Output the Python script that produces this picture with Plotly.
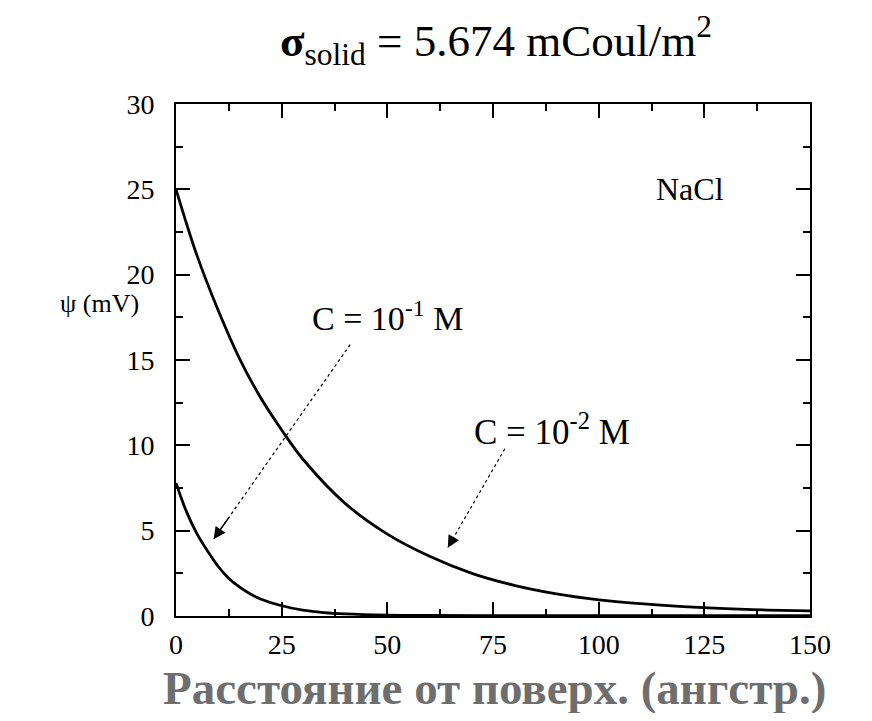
import plotly.graph_objects as go

# Data
x_c2 = [0, 5, 10, 15, 20, 25, 30, 40, 50, 60, 70, 80, 90, 100, 110, 120, 130, 140, 150]
psi_c2 = [25.0, 21.1, 17.9, 15.1, 12.8, 10.9, 9.2, 6.6, 4.8, 3.5, 2.5, 1.8, 1.3, 0.95, 0.72, 0.55, 0.43, 0.35, 0.3]

x_c1 = [0, 2.5, 5, 7.5, 10, 12.5, 15, 17.5, 20, 25, 30, 35, 40, 50, 60, 80, 100, 125, 150]
psi_c1 = [7.8, 6.1, 4.8, 3.8, 2.9, 2.2, 1.7, 1.3, 1.0, 0.6, 0.35, 0.2, 0.12, 0.05, 0.03, 0.02, 0.02, 0.02, 0.02]

x_ticks = [0, 25, 50, 75, 100, 125, 150]
y_ticks = [0, 5, 10, 15, 20, 25, 30]

serif = "Liberation Serif, Times New Roman, serif"

fig = go.Figure()
fig.add_trace(go.Scatter(x=x_c2, y=psi_c2, mode="lines", line=dict(color="black", width=2.8, shape="spline"),
                         name="C = 10^-2 M", showlegend=False))
fig.add_trace(go.Scatter(x=x_c1, y=psi_c1, mode="lines", line=dict(color="black", width=2.8, shape="spline"),
                         name="C = 10^-1 M", showlegend=False))

# dotted arrow lines
arrows = [
    # (tail_x, tail_y, tip_x, tip_y)
    (41.2, 15.9, 8.9, 4.5),
    (77.8, 9.8, 64.3, 4.0),
]
for tx, ty, hx, hy in arrows:
    fig.add_trace(go.Scatter(x=[tx, hx], y=[ty, hy], mode="lines",
                             line=dict(color="black", width=1.2, dash="dot"),
                             showlegend=False, hoverinfo="skip"))
    dx, dy = tx - hx, ty - hy
    fig.add_annotation(x=hx, y=hy, ax=hx + dx * 0.12, ay=hy + dy * 0.12,
                       xref="x", yref="y", axref="x", ayref="y",
                       showarrow=True, arrowhead=2, arrowsize=1.6, arrowwidth=1.5,
                       arrowcolor="black", text="")

fig.add_annotation(x=50.0, y=17.6, xref="x", yref="y", text="C = 10<sup>-1</sup> M",
                   showarrow=False, font=dict(family=serif, size=34, color="black"))
fig.add_annotation(x=89.0, y=10.9, xref="x", yref="y", text="C = 10<sup>-2</sup> M",
                   showarrow=False, font=dict(family=serif, size=35, color="black"))
fig.add_annotation(x=121.5, y=25.0, xref="x", yref="y", text="NaCl",
                   showarrow=False, font=dict(family=serif, size=32, color="black"))

# title
fig.add_annotation(x=0.505, y=1.125, xref="paper", yref="paper", yanchor="middle",
                   text="<b>σ</b><sub>solid</sub> = 5.674 mCoul/m<sup>2</sup>",
                   showarrow=False, font=dict(family=serif, size=45, color="black"))
# y label
fig.add_annotation(x=-0.055, y=0.61, xref="paper", yref="paper", text="ψ (mV)",
                   showarrow=False, xanchor="right", yanchor="middle",
                   font=dict(family=serif, size=26, color="black"))
# x label
fig.add_annotation(x=0.503, y=-0.14, xref="paper", yref="paper",
                   text="<b>Расстояние от поверх. (ангстр.)</b>", yanchor="middle",
                   showarrow=False, font=dict(family=serif, size=47, color="#6e6e6e"))

axis_common = dict(showline=True, linecolor="black", linewidth=2, mirror="ticks",
                   ticks="inside", ticklen=14, tickwidth=1.5, tickcolor="black",
                   showgrid=False, zeroline=False,
                   tickfont=dict(family=serif, size=28, color="black"))

fig.update_xaxes(range=[0, 150], tickvals=x_ticks, ticktext=[str(v) for v in x_ticks],
                 minor=dict(dtick=12.5, ticklen=7, tickcolor="black", ticks="inside"),
                 ticklabelstandoff=2, **axis_common)
fig.update_yaxes(range=[0, 30], tickvals=y_ticks, ticktext=[str(v) for v in y_ticks],
                 minor=dict(dtick=2.5, ticklen=7, tickcolor="black", ticks="inside"),
                 ticklabelstandoff=14, **axis_common)

# the page body adds an 8px margin, so the figure is sized to fit the window
fig.update_layout(width=856, height=705, plot_bgcolor="white", paper_bgcolor="white",
                  margin=dict(l=168, r=54, t=96, b=97), showlegend=False)

fig.write_html("out.html")
